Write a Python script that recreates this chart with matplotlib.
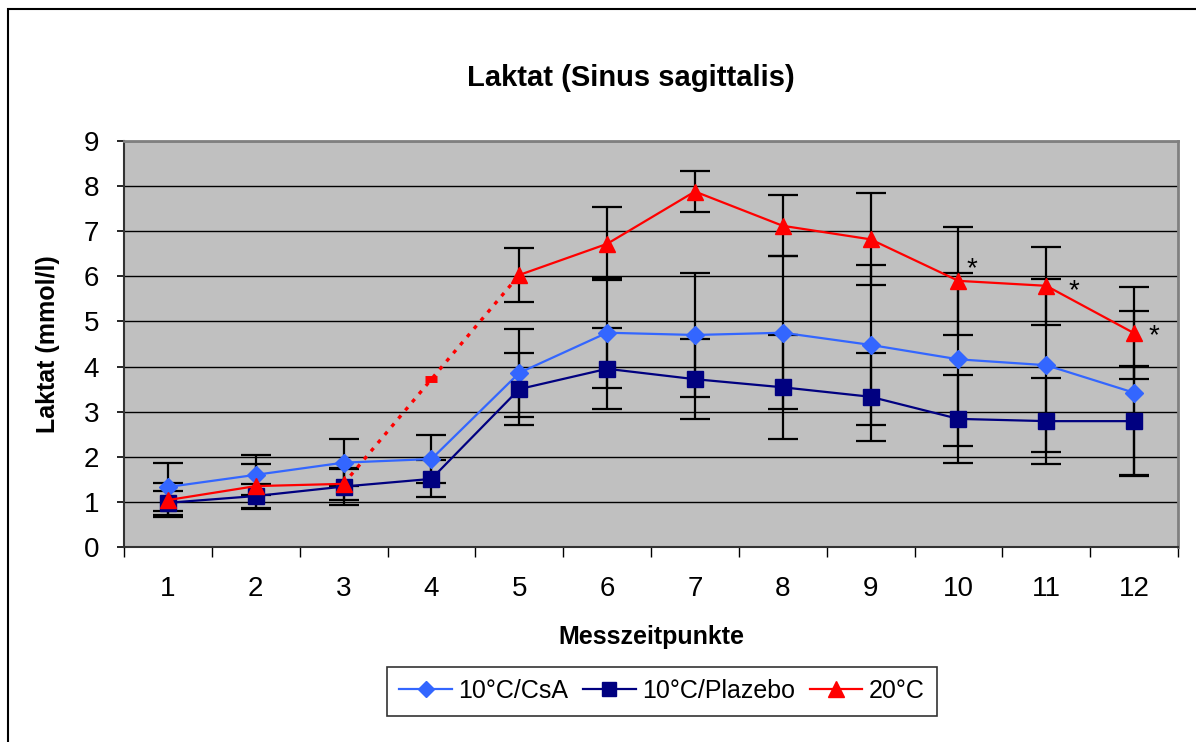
import numpy as np
import matplotlib
matplotlib.use("Agg")
import matplotlib.pyplot as plt
from matplotlib.lines import Line2D
from matplotlib.patches import Rectangle

plt.rcParams["font.family"] = ["Liberation Sans", "DejaVu Sans"]

# Data
timepoints = ["1", "2", "3", "4", "5", "6", "7", "8", "9", "10", "11", "12"]
csa = [1.33, 1.60, 1.87, 1.95, 3.86, 4.75, 4.70, 4.75, 4.48, 4.16, 4.03, 3.42]
csa_err = [0.54, 0.45, 0.52, 0.53, 0.97, 1.22, 1.38, 1.70, 1.77, 1.92, 1.92, 1.82]
placebo = [0.98, 1.13, 1.34, 1.51, 3.50, 3.95, 3.72, 3.54, 3.33, 2.84, 2.79, 2.79]
placebo_err = [0.26, 0.27, 0.40, 0.41, 0.79, 0.90, 0.88, 1.15, 0.98, 0.98, 0.95, 1.22]
warm = [1.04, 1.35, 1.40, 3.72, 6.03, 6.72, 7.88, 7.12, 6.82, 5.90, 5.79, 4.74]
warm_err = [0.37, 0.50, 0.36, np.nan, 0.59, 0.81, 0.45, 0.68, 1.02, 1.20, 0.86, 1.02]
missing_idx = 3          # timepoint 4 of the 20°C series is only a dotted bridge
star_idx = [9, 10, 11]   # significant timepoints

c_csa = "#3366FF"
c_pla = "#000080"
c_red = "#FF0000"

x = np.arange(len(timepoints)) + 0.5

fig = plt.figure(figsize=(11.96, 7.42), dpi=100)
ax = fig.add_axes([124 / 1196, 1 - 547 / 742, 1054 / 1196, 406 / 742])
ax.set_facecolor("#C0C0C0")

# outer chart border
fig.patches.append(Rectangle((8 / 1196, -0.01), 1.1, 1 - 9 / 742 + 0.01,
                             transform=fig.transFigure, fill=False,
                             edgecolor="black", lw=1.5, zorder=0))

ax.set_ylim(0, 9)
ax.set_xlim(0, len(timepoints))
ax.set_yticks(range(10))
ax.yaxis.grid(True, color="black", lw=1)
ax.set_axisbelow(True)

err_kw = dict(fmt="none", ecolor="black", elinewidth=1.6, capsize=11, capthick=1.6, zorder=3)

# 10°C/CsA
ax.errorbar(x, csa, yerr=csa_err, **err_kw)
ax.plot(x, csa, color=c_csa, lw=1.6, marker="D", ms=9, mfc=c_csa, mec=c_csa, zorder=5)

# 10°C/Plazebo
ax.errorbar(x, placebo, yerr=placebo_err, **err_kw)
ax.plot(x, placebo, color=c_pla, lw=1.6, marker="s", ms=11, mfc=c_pla, mec=c_pla, zorder=6)

# 20°C
warm = np.array(warm)
ax.errorbar(x, warm, yerr=warm_err, **err_kw)
solid = warm.copy()
solid[missing_idx] = np.nan
ax.plot(x, solid, color=c_red, lw=1.6, marker="^", ms=12, mfc=c_red, mec=c_red, zorder=7)
ax.plot(x[missing_idx - 1:missing_idx + 2], warm[missing_idx - 1:missing_idx + 2],
        color=c_red, lw=2.4, ls=(0, (1.2, 2.0)), zorder=7)
ax.plot(x[missing_idx], warm[missing_idx], marker="_", ms=9, mew=5, color=c_red, zorder=7)

# significance stars, nudged like in the original
star_offsets = [(10, 3), (20, -9), (14, -7)]
for i, off in zip(star_idx, star_offsets):
    ax.annotate("*", xy=(x[i], warm[i]), xytext=off, textcoords="offset points",
                fontsize=20, ha="center", va="baseline", zorder=8)

# axes styling
ax.set_xticks(range(len(timepoints) + 1))
ax.set_xticklabels([])
ax.set_xticks(x, minor=True)
ax.set_xticklabels(timepoints, minor=True)
ax.tick_params(axis="x", which="major", direction="out", length=7, width=1, color="black")
ax.tick_params(axis="x", which="minor", length=0, pad=21, labelsize=20)
ax.tick_params(axis="y", direction="out", length=5, width=1.2, pad=13, labelsize=20)

for side in ["top", "right"]:
    ax.spines[side].set_color("#808080")
    ax.spines[side].set_linewidth(2)
ax.spines["left"].set_color("#333333")
ax.spines["left"].set_linewidth(1.5)
ax.spines["bottom"].set_color("#333333")
ax.spines["bottom"].set_linewidth(1.5)

fig.text(631 / 1196, 1 - 78 / 742, "Laktat (Sinus sagittalis)", fontsize=21,
         fontweight="bold", ha="center", va="center")
fig.text(651 / 1196, 1 - 637 / 742, "Messzeitpunkte", fontsize=18,
         fontweight="bold", ha="center", va="center")
fig.text(48 / 1196, 1 - 344 / 742, "Laktat (mmol/l)", fontsize=18,
         fontweight="bold", ha="center", va="center", rotation=90)

handles = [
    Line2D([], [], color=c_csa, lw=1.6, marker="D", ms=8, mfc=c_csa, mec=c_csa),
    Line2D([], [], color=c_pla, lw=1.6, marker="s", ms=10, mfc=c_pla, mec=c_pla),
    Line2D([], [], color=c_red, lw=1.6, marker="^", ms=11, mfc=c_red, mec=c_red),
]
leg = fig.legend(handles, ["10°C/CsA", "10°C/Plazebo", "20°C"], ncol=3,
                 loc="center", bbox_to_anchor=(662 / 1196, 1 - 691 / 742),
                 fontsize=18, frameon=True, fancybox=False, handlelength=2.1,
                 handletextpad=0.25, columnspacing=0.6, borderpad=0.5)
leg.get_frame().set_edgecolor("black")
leg.get_frame().set_linewidth(1.2)

fig.savefig("out.png", dpi=100)
